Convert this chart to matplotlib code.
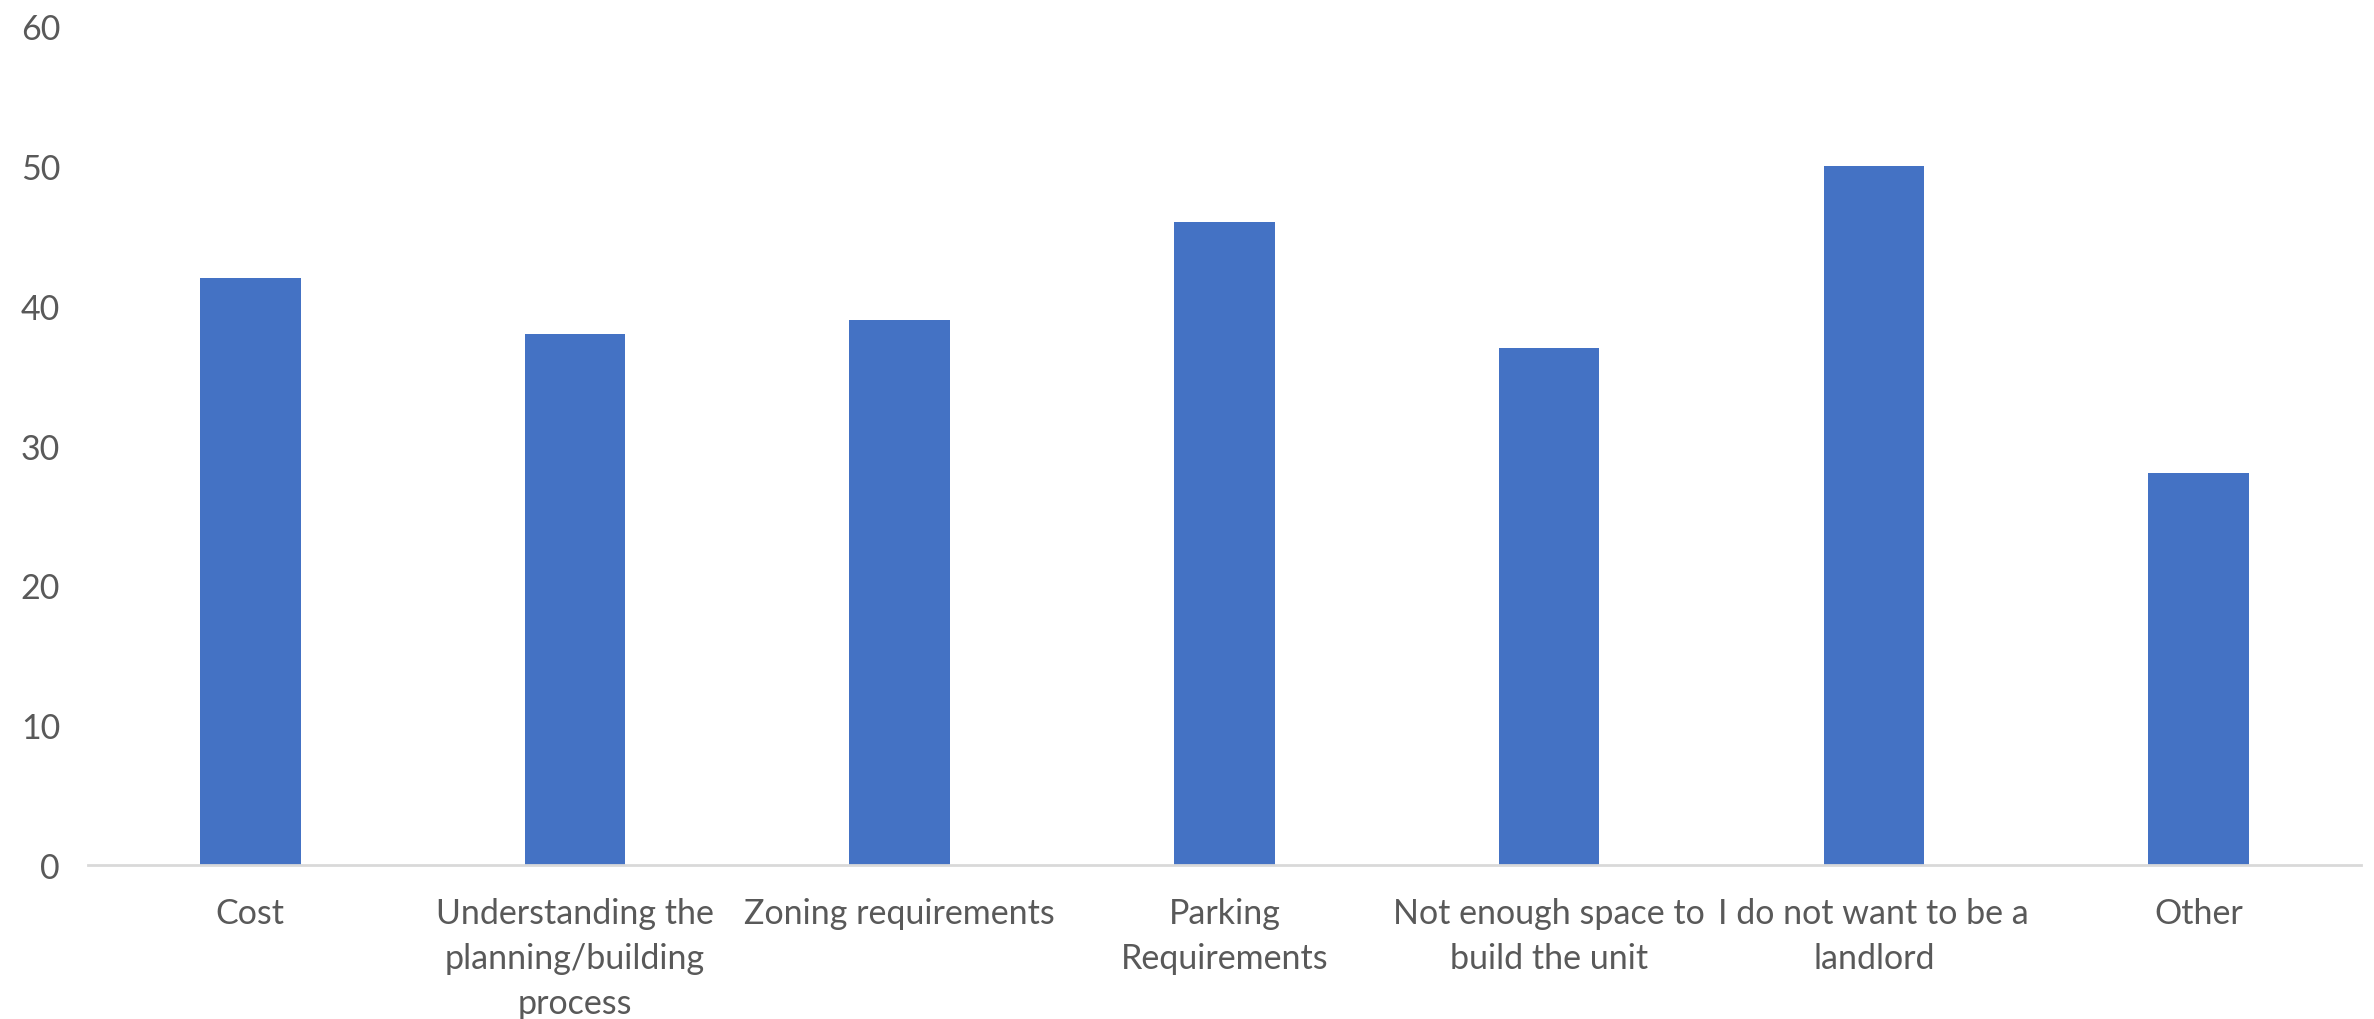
import numpy as np
import matplotlib.pyplot as plt

categories = ["Cost", "Understanding the\nplanning/building\nprocess",
              "Zoning requirements", "Parking\nRequirements",
              "Not enough space to\nbuild the unit",
              "I do not want to be a\nlandlord", "Other"]
values = [42, 38, 39, 46, 37, 50, 28]
yticks = [0, 10, 20, 30, 40, 50, 60]

plt.rcParams['font.family'] = ['Lato', 'DejaVu Sans']

fig = plt.figure(figsize=(23.74, 10.2), dpi=100)
ax = fig.add_axes([0.037, 0.151, 0.9575, 0.8225])

x = np.arange(len(categories))
ax.bar(x, values, width=0.31, color="#4472C4", zorder=2)

ax.set_xlim(-0.5, len(categories) - 0.5)
ax.set_ylim(0, 60)
ax.set_yticks(yticks)
ax.set_xticks(x)
ax.set_xticklabels(categories, linespacing=1.5)

ax.tick_params(axis='both', length=0, labelsize=24.5, labelcolor="#595959")
ax.tick_params(axis='x', pad=23)
ax.tick_params(axis='y', pad=20)

for s in ['top', 'right', 'left']:
    ax.spines[s].set_visible(False)
ax.spines['bottom'].set_color("#d9d9d9")
ax.spines['bottom'].set_linewidth(2)

fig.savefig("out.png", dpi=100)
